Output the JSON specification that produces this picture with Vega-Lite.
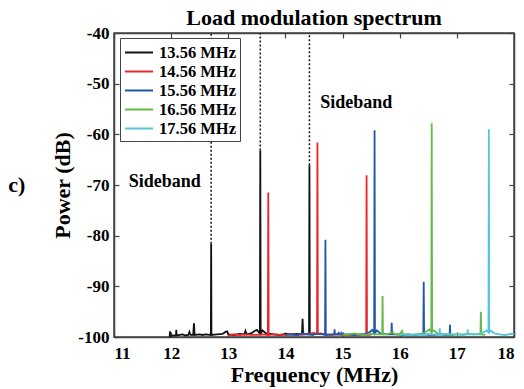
{
  "$schema": "https://vega.github.io/schema/vega-lite/v6.json",
  "autosize": "none",
  "width": 400,
  "height": 304,
  "padding": {"left": 114, "top": 33, "right": 10, "bottom": 52},
  "background": "white",
  "title": {"text": "Load modulation spectrum", "font": "Liberation Serif", "fontSize": 22, "fontWeight": "bold", "color": "#000", "anchor": "middle", "offset": -6},
  "config": {
    "font": "Liberation Serif",
    "view": {"stroke": "#444", "strokeWidth": 1.5},
    "axis": {"grid": false, "domainColor": "#444", "domainWidth": 1.5, "tickColor": "#444", "tickWidth": 1.2, "tickSize": -5, "labelFont": "Liberation Serif", "labelFontSize": 17, "labelFontWeight": "bold", "labelColor": "#000", "titleFont": "Liberation Serif", "titleFontSize": 22, "titleFontWeight": "bold", "titleColor": "#000"}
  },
  "datasets": {
    "spec": [
      {"s":"13.56 MHz","f":11.96,"p":-99.8},{"s":"13.56 MHz","f":11.975,"p":-99.8},{"s":"13.56 MHz","f":11.98,"p":-98.9},{"s":"13.56 MHz","f":11.985,"p":-99.8},
      {"s":"13.56 MHz","f":12.05,"p":-99.7},{"s":"13.56 MHz","f":12.085,"p":-99.7},{"s":"13.56 MHz","f":12.09,"p":-98.6},{"s":"13.56 MHz","f":12.095,"p":-99.7},
      {"s":"13.56 MHz","f":12.15,"p":-99.6},{"s":"13.56 MHz","f":12.2,"p":-99.5},{"s":"13.56 MHz","f":12.25,"p":-99.7},{"s":"13.56 MHz","f":12.3,"p":-99.6},
      {"s":"13.56 MHz","f":12.32,"p":-99.0},{"s":"13.56 MHz","f":12.34,"p":-99.6},{"s":"13.56 MHz","f":12.385,"p":-99.6},{"s":"13.56 MHz","f":12.4,"p":-97.3},
      {"s":"13.56 MHz","f":12.41,"p":-99.6},{"s":"13.56 MHz","f":12.5,"p":-99.5},{"s":"13.56 MHz","f":12.55,"p":-99.6},{"s":"13.56 MHz","f":12.6,"p":-99.5},
      {"s":"13.56 MHz","f":12.695,"p":-99.6},{"s":"13.56 MHz","f":12.7,"p":-81.6},{"s":"13.56 MHz","f":12.705,"p":-99.6},{"s":"13.56 MHz","f":12.8,"p":-99.5},
      {"s":"13.56 MHz","f":12.9,"p":-99.4},{"s":"13.56 MHz","f":12.95,"p":-99.0},{"s":"13.56 MHz","f":12.98,"p":-98.9},{"s":"13.56 MHz","f":13.0,"p":-99.5},
      {"s":"13.56 MHz","f":13.1,"p":-99.6},{"s":"13.56 MHz","f":13.2,"p":-99.4},{"s":"13.56 MHz","f":13.28,"p":-99.5},{"s":"13.56 MHz","f":13.3,"p":-98.8},
      {"s":"13.56 MHz","f":13.32,"p":-99.5},{"s":"13.56 MHz","f":13.4,"p":-99.3},{"s":"13.56 MHz","f":13.46,"p":-98.8},{"s":"13.56 MHz","f":13.5,"p":-98.6},
      {"s":"13.56 MHz","f":13.553,"p":-99.3},{"s":"13.56 MHz","f":13.56,"p":-63.2},{"s":"13.56 MHz","f":13.567,"p":-99.3},{"s":"13.56 MHz","f":13.6,"p":-98.7},
      {"s":"13.56 MHz","f":13.66,"p":-99.3},{"s":"13.56 MHz","f":13.8,"p":-99.5},{"s":"13.56 MHz","f":13.9,"p":-99.6},{"s":"13.56 MHz","f":14.0,"p":-99.4},
      {"s":"13.56 MHz","f":14.1,"p":-99.5},{"s":"13.56 MHz","f":14.2,"p":-99.4},{"s":"13.56 MHz","f":14.29,"p":-99.5},{"s":"13.56 MHz","f":14.3,"p":-96.4},
      {"s":"13.56 MHz","f":14.31,"p":-99.5},{"s":"13.56 MHz","f":14.413,"p":-99.5},{"s":"13.56 MHz","f":14.42,"p":-66.1},{"s":"13.56 MHz","f":14.427,"p":-99.5},
      {"s":"13.56 MHz","f":14.5,"p":-99.6},

      {"s":"14.56 MHz","f":13.0,"p":-99.7},{"s":"14.56 MHz","f":13.1,"p":-99.5},{"s":"14.56 MHz","f":13.2,"p":-99.6},{"s":"14.56 MHz","f":13.3,"p":-99.5},
      {"s":"14.56 MHz","f":13.4,"p":-99.6},{"s":"14.56 MHz","f":13.5,"p":-99.6},{"s":"14.56 MHz","f":13.6,"p":-99.5},{"s":"14.56 MHz","f":13.693,"p":-99.6},
      {"s":"14.56 MHz","f":13.7,"p":-71.5},{"s":"14.56 MHz","f":13.707,"p":-99.6},{"s":"14.56 MHz","f":13.8,"p":-99.5},{"s":"14.56 MHz","f":13.9,"p":-99.6},
      {"s":"14.56 MHz","f":14.0,"p":-99.6},{"s":"14.56 MHz","f":14.1,"p":-99.5},{"s":"14.56 MHz","f":14.2,"p":-99.6},{"s":"14.56 MHz","f":14.3,"p":-99.5},
      {"s":"14.56 MHz","f":14.4,"p":-99.4},{"s":"14.56 MHz","f":14.5,"p":-99.2},{"s":"14.56 MHz","f":14.553,"p":-99.4},{"s":"14.56 MHz","f":14.56,"p":-61.6},
      {"s":"14.56 MHz","f":14.567,"p":-99.4},{"s":"14.56 MHz","f":14.62,"p":-99.3},{"s":"14.56 MHz","f":14.7,"p":-99.5},{"s":"14.56 MHz","f":14.8,"p":-99.6},
      {"s":"14.56 MHz","f":14.9,"p":-99.5},{"s":"14.56 MHz","f":15.0,"p":-99.6},{"s":"14.56 MHz","f":15.1,"p":-99.6},{"s":"14.56 MHz","f":15.2,"p":-99.5},
      {"s":"14.56 MHz","f":15.3,"p":-99.6},{"s":"14.56 MHz","f":15.413,"p":-99.6},{"s":"14.56 MHz","f":15.42,"p":-68.1},{"s":"14.56 MHz","f":15.427,"p":-99.6},
      {"s":"14.56 MHz","f":15.5,"p":-99.6},

      {"s":"15.56 MHz","f":14.0,"p":-99.6},{"s":"15.56 MHz","f":14.1,"p":-99.5},{"s":"15.56 MHz","f":14.2,"p":-99.6},{"s":"15.56 MHz","f":14.3,"p":-99.3},
      {"s":"15.56 MHz","f":14.4,"p":-99.5},{"s":"15.56 MHz","f":14.5,"p":-99.5},{"s":"15.56 MHz","f":14.6,"p":-99.4},{"s":"15.56 MHz","f":14.693,"p":-99.6},
      {"s":"15.56 MHz","f":14.7,"p":-80.8},{"s":"15.56 MHz","f":14.707,"p":-99.6},{"s":"15.56 MHz","f":14.8,"p":-99.5},{"s":"15.56 MHz","f":14.853,"p":-99.5},
      {"s":"15.56 MHz","f":14.86,"p":-98.5},{"s":"15.56 MHz","f":14.867,"p":-99.5},{"s":"15.56 MHz","f":14.923,"p":-99.5},{"s":"15.56 MHz","f":14.93,"p":-99.0},
      {"s":"15.56 MHz","f":14.937,"p":-99.5},{"s":"15.56 MHz","f":14.973,"p":-99.5},{"s":"15.56 MHz","f":14.98,"p":-99.0},{"s":"15.56 MHz","f":14.987,"p":-99.5},
      {"s":"15.56 MHz","f":15.1,"p":-99.5},{"s":"15.56 MHz","f":15.2,"p":-99.6},{"s":"15.56 MHz","f":15.3,"p":-99.5},{"s":"15.56 MHz","f":15.4,"p":-99.4},
      {"s":"15.56 MHz","f":15.48,"p":-99.0},{"s":"15.56 MHz","f":15.52,"p":-98.6},{"s":"15.56 MHz","f":15.553,"p":-99.2},{"s":"15.56 MHz","f":15.56,"p":-59.2},
      {"s":"15.56 MHz","f":15.567,"p":-99.2},{"s":"15.56 MHz","f":15.6,"p":-98.7},{"s":"15.56 MHz","f":15.66,"p":-99.3},{"s":"15.56 MHz","f":15.75,"p":-99.5},
      {"s":"15.56 MHz","f":15.853,"p":-99.5},{"s":"15.56 MHz","f":15.86,"p":-97.2},{"s":"15.56 MHz","f":15.867,"p":-99.5},{"s":"15.56 MHz","f":15.95,"p":-99.5},
      {"s":"15.56 MHz","f":16.05,"p":-99.6},{"s":"15.56 MHz","f":16.15,"p":-99.5},{"s":"15.56 MHz","f":16.25,"p":-99.6},{"s":"15.56 MHz","f":16.35,"p":-99.5},
      {"s":"15.56 MHz","f":16.413,"p":-99.5},{"s":"15.56 MHz","f":16.42,"p":-89.1},{"s":"15.56 MHz","f":16.427,"p":-99.5},{"s":"15.56 MHz","f":16.5,"p":-99.6},
      {"s":"15.56 MHz","f":16.6,"p":-99.6},{"s":"15.56 MHz","f":16.7,"p":-99.5},{"s":"15.56 MHz","f":16.8,"p":-99.6},{"s":"15.56 MHz","f":16.873,"p":-99.6},
      {"s":"15.56 MHz","f":16.88,"p":-97.6},{"s":"15.56 MHz","f":16.887,"p":-99.6},{"s":"15.56 MHz","f":16.95,"p":-99.6},

      {"s":"16.56 MHz","f":15.0,"p":-99.6},{"s":"16.56 MHz","f":15.1,"p":-99.5},{"s":"16.56 MHz","f":15.2,"p":-99.3},{"s":"16.56 MHz","f":15.3,"p":-99.5},
      {"s":"16.56 MHz","f":15.4,"p":-99.6},{"s":"16.56 MHz","f":15.5,"p":-99.4},{"s":"16.56 MHz","f":15.6,"p":-99.5},{"s":"16.56 MHz","f":15.693,"p":-99.5},
      {"s":"16.56 MHz","f":15.7,"p":-91.9},{"s":"16.56 MHz","f":15.707,"p":-99.5},{"s":"16.56 MHz","f":15.8,"p":-99.4},{"s":"16.56 MHz","f":15.88,"p":-99.0},
      {"s":"16.56 MHz","f":15.9,"p":-99.5},{"s":"16.56 MHz","f":16.0,"p":-99.5},{"s":"16.56 MHz","f":16.04,"p":-98.8},{"s":"16.56 MHz","f":16.06,"p":-99.5},
      {"s":"16.56 MHz","f":16.2,"p":-99.6},{"s":"16.56 MHz","f":16.3,"p":-99.5},{"s":"16.56 MHz","f":16.4,"p":-99.3},{"s":"16.56 MHz","f":16.48,"p":-98.8},
      {"s":"16.56 MHz","f":16.52,"p":-98.5},{"s":"16.56 MHz","f":16.553,"p":-99.0},{"s":"16.56 MHz","f":16.56,"p":-57.8},{"s":"16.56 MHz","f":16.567,"p":-99.0},
      {"s":"16.56 MHz","f":16.6,"p":-98.7},{"s":"16.56 MHz","f":16.66,"p":-99.3},{"s":"16.56 MHz","f":16.8,"p":-99.5},{"s":"16.56 MHz","f":16.9,"p":-99.6},
      {"s":"16.56 MHz","f":17.0,"p":-99.5},{"s":"16.56 MHz","f":17.1,"p":-99.5},{"s":"16.56 MHz","f":17.2,"p":-99.4},{"s":"16.56 MHz","f":17.3,"p":-99.5},
      {"s":"16.56 MHz","f":17.413,"p":-99.5},{"s":"16.56 MHz","f":17.42,"p":-95.0},{"s":"16.56 MHz","f":17.427,"p":-99.5},{"s":"16.56 MHz","f":17.5,"p":-99.6},

      {"s":"17.56 MHz","f":16.0,"p":-99.6},{"s":"17.56 MHz","f":16.1,"p":-99.5},{"s":"17.56 MHz","f":16.2,"p":-99.6},{"s":"17.56 MHz","f":16.3,"p":-99.5},
      {"s":"17.56 MHz","f":16.4,"p":-99.6},{"s":"17.56 MHz","f":16.5,"p":-99.4},{"s":"17.56 MHz","f":16.6,"p":-99.5},{"s":"17.56 MHz","f":16.693,"p":-99.5},
      {"s":"17.56 MHz","f":16.7,"p":-98.3},{"s":"17.56 MHz","f":16.707,"p":-99.5},{"s":"17.56 MHz","f":16.8,"p":-99.4},{"s":"17.56 MHz","f":16.9,"p":-99.5},
      {"s":"17.56 MHz","f":17.0,"p":-99.5},{"s":"17.56 MHz","f":17.1,"p":-99.6},{"s":"17.56 MHz","f":17.183,"p":-99.5},{"s":"17.56 MHz","f":17.19,"p":-98.5},
      {"s":"17.56 MHz","f":17.197,"p":-99.5},{"s":"17.56 MHz","f":17.3,"p":-99.5},{"s":"17.56 MHz","f":17.4,"p":-99.4},{"s":"17.56 MHz","f":17.48,"p":-99.0},
      {"s":"17.56 MHz","f":17.52,"p":-98.7},{"s":"17.56 MHz","f":17.553,"p":-99.1},{"s":"17.56 MHz","f":17.56,"p":-59.0},{"s":"17.56 MHz","f":17.567,"p":-99.1},
      {"s":"17.56 MHz","f":17.6,"p":-98.8},{"s":"17.56 MHz","f":17.66,"p":-99.3},{"s":"17.56 MHz","f":17.75,"p":-99.5},{"s":"17.56 MHz","f":17.85,"p":-99.6},
      {"s":"17.56 MHz","f":17.95,"p":-99.4},{"s":"17.56 MHz","f":18.0,"p":-99.5}
    ],
    "guides": [{"f":12.7,"p":-81.6},{"f":13.56,"p":-63.2},{"f":14.42,"p":-66.1}],
    "notes": [{"f":11.89,"p":-69.4,"t":"Sideband"},{"f":15.24,"p":-53.8,"t":"Sideband"}],
    "panel": [{"f":9.3,"p":-70.0,"t":"c)"}]
  },
  "resolve": {"axis": {"x": "independent", "y": "independent"}},
  "layer": [
    {
      "data": {"name": "spec"},
      "mark": {"type": "line", "strokeWidth": 1.8, "clip": true, "interpolate": "linear"},
      "encoding": {
        "x": {"field": "f", "type": "quantitative", "scale": {"domain": [11, 18], "nice": false, "zero": false},
              "axis": {"orient": "bottom", "title": "Frequency (MHz)", "values": [11,12,13,14,15,16,17,18], "labelExpr": "toString(datum.value)",
                       "labelFont": "Times New Roman", "labelFontSize": 17, "labelFontWeight": 700, "labelColor": "#000",
                       "labelPadding": 13, "titlePadding": 3}},
        "y": {"field": "p", "type": "quantitative", "scale": {"domain": [-100, -40], "nice": false, "zero": false},
              "axis": {"orient": "left", "title": "Power (dB)", "values": [-100,-90,-80,-70,-60,-50,-40], "labelExpr": "toString(datum.value)",
                       "labelFont": "Times New Roman", "labelFontSize": 17, "labelFontWeight": 700, "labelColor": "#000",
                       "labelPadding": 10, "titlePadding": 3}},
        "color": {"field": "s", "type": "nominal",
                  "scale": {"domain": ["13.56 MHz","14.56 MHz","15.56 MHz","16.56 MHz","17.56 MHz"], "range": ["#111111","#e8262b","#2156ad","#62bb46","#55c6da"]},
                  "legend": {"title": null, "orient": "none", "legendX": 6, "legendY": 5, "direction": "vertical",
                             "symbolType": "M-1,0H1.95", "symbolSize": 361, "symbolStrokeWidth": 2, "labelOffset": 14, "rowPadding": 0,
                             "labelFont": "Liberation Serif", "labelFontSize": 16.5, "labelFontWeight": "bold", "labelColor": "#000",
                             "strokeColor": "#444", "padding": 4, "fillColor": "white"}}
      }
    },
    {
      "data": {"name": "guides"},
      "mark": {"type": "rule", "strokeDash": [2, 2], "strokeWidth": 1.5, "color": "#111"},
      "encoding": {
        "x": {"field": "f", "type": "quantitative", "axis": {"orient": "top", "title": null, "labels": false, "values": [11,12,13,14,15,16,17,18]}},
        "y": {"field": "p", "type": "quantitative", "axis": {"orient": "right", "title": null, "labels": false, "values": [-100,-90,-80,-70,-60,-50,-40]}},
        "y2": {"datum": -40}
      }
    },
    {
      "data": {"name": "notes"},
      "mark": {"type": "text", "font": "Liberation Serif", "fontSize": 18, "fontWeight": "bold", "color": "#000", "baseline": "middle"},
      "encoding": {
        "x": {"field": "f", "type": "quantitative", "axis": null},
        "y": {"field": "p", "type": "quantitative", "axis": null},
        "text": {"field": "t"}
      }
    },
    {
      "data": {"name": "panel"},
      "mark": {"type": "text", "font": "Liberation Serif", "fontSize": 22, "fontWeight": "bold", "color": "#000", "baseline": "middle"},
      "encoding": {
        "x": {"field": "f", "type": "quantitative", "axis": null},
        "y": {"field": "p", "type": "quantitative", "axis": null},
        "text": {"field": "t"}
      }
    }
  ]
}
